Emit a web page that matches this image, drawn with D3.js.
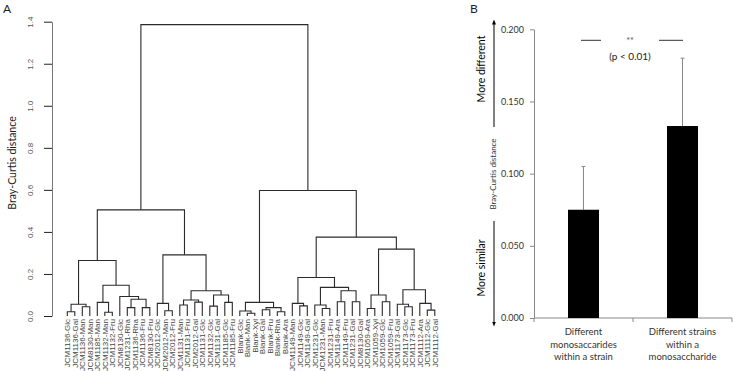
<!DOCTYPE html>
<html>
<head>
<meta charset="utf-8">
<script src="https://cdn.jsdelivr.net/npm/d3@7"></script>
<style>
  body { margin: 0; background: #fff; }
  svg { display: block; }
</style>
</head>
<body>
<div id="chart"></div>
<script>
// ---- Panel A: dendrogram (leaf order as plotted)
const leafLabels = [
  "JCM1136-Glc", "JCM1136-Gal", "JCM1136-Man", "JCM8130-Man", "JCM1185-Man", "JCM1132-Man",
  "JCM1132-Fru", "JCM8130-Glc", "JCM1231-Rha", "JCM1136-Rha", "JCM1136-Fru", "JCM8130-Fru",
  "JCM2012-Glc", "JCM2012-Man", "JCM2012-Fru", "JCM1131-Man", "JCM1131-Fru", "JCM2012-Gal",
  "JCM1131-Glc", "JCM1132-Glc", "JCM1131-Gal", "JCM1185-Glc", "JCM1185-Fru",
  "Blank-Glc", "Blank-Man", "Blank-Xyl", "Blank-Gal", "Blank-Fru", "Blank-Rha", "Blank-Ara",
  "JCM1149-Man", "JCM1149-Glc", "JCM1149-Gal", "JCM1231-Glc", "JCM1231-Man", "JCM1231-Fru",
  "JCM1149-Ara", "JCM1149-Fru", "JCM1231-Gal", "JCM8130-Gal", "JCM1059-Ara", "JCM1059-Xyl",
  "JCM1059-Glc", "JCM1059-Fru", "JCM1173-Gal", "JCM1173-Glc", "JCM1173-Fru", "JCM1112-Ara",
  "JCM1112-Glc", "JCM1112-Gal"
];

// hclust-style merges: negative = leaf (1-based), positive = earlier merge (1-based)
const mergeLeft   = [-1, -3, 1, -6, -5, -9, -11, 6, -8, 5, 3, -14, -13, -16, -18, 14, -20, -22, 17, 16, 13, 11,
                     -25, -24, -27, -29, 25, 24, -32, -31, -35, -34, -37, -39, 33, 32, 30, -41, -43, 38, -46, -45,
                     -49, -48, 42, 40, 37, 28, 22];
const mergeRight  = [-2, -4, 2, -7, 4, -10, -12, 7, 8, 9, 10, -15, 12, -17, -19, 15, -21, -23, 18, 19, 20, 21,
                     -26, 23, -28, -30, 26, 27, -33, 29, -36, 31, -38, -40, 34, 35, 36, -42, -44, 39, -47, 41,
                     -50, 43, 44, 45, 46, 47, 48];
const mergeHeight = [0.020, 0.044, 0.056, 0.018, 0.065, 0.040, 0.040, 0.080, 0.093, 0.146, 0.264,
                     0.025, 0.060, 0.052, 0.066, 0.076, 0.047, 0.065, 0.100, 0.120, 0.291, 0.505,
                     0.013, 0.024, 0.030, 0.020, 0.040, 0.065,
                     0.048, 0.060, 0.036, 0.052, 0.068, 0.068, 0.120, 0.136, 0.183,
                     0.036, 0.068, 0.100, 0.044, 0.056, 0.028, 0.060, 0.125, 0.318, 0.375, 0.597, 1.386];
const distTicks = [0, 0.2, 0.4, 0.6, 0.8, 1.0, 1.2, 1.4];

// ---- Panel B: mean Bray-Curtis distance
const groupLines = [["Different", "monosaccarides", "within a strain"],
                    ["Different strains", "within a", "monosaccharide"]];
const meanDist = [0.075, 0.133];
const sdDist = [0.030, 0.047];
const barTicks = [0, 0.05, 0.10, 0.15, 0.20];

const width = 733, height = 371;
const svg = d3.select("#chart").append("svg")
  .attr("width", width)
  .attr("height", height)
  .style("font-family", "Lato, 'Open Sans', sans-serif");

// ===== Panel A
const nodes = [];
const pick = k => k < 0 ? { name: leafLabels[-k - 1], height: 0 } : nodes[k - 1];
mergeLeft.forEach((l, i) => nodes.push({ height: mergeHeight[i], children: [pick(l), pick(mergeRight[i])] }));
const root = d3.hierarchy(nodes[nodes.length - 1]);

const xLeaf = d3.scalePoint().domain(leafLabels).range([67.3, 434.8]);
const yA = d3.scaleLinear().domain([0, 1.4]).range([316, 21.7]);

root.eachAfter(n => { n.x = n.children ? d3.mean(n.children, c => c.x) : xLeaf(n.data.name); });

svg.append("text").attr("x", 3).attr("y", 13).attr("font-size", 12).attr("fill", "#222").text("A");

const axA = svg.append("g")
  .attr("transform", "translate(52,0)")
  .call(d3.axisLeft(yA).tickValues(distTicks).tickSize(8).tickSizeOuter(0).tickFormat(d3.format(".1f")));
axA.select(".domain").attr("stroke", "#777");
axA.selectAll(".tick line").attr("stroke", "#222");
axA.selectAll(".tick text")
  .attr("transform", "rotate(-90)")
  .attr("x", 0).attr("y", -19).attr("dy", 0)
  .attr("text-anchor", "middle")
  .attr("font-family", "'Liberation Sans', Arial, sans-serif")
  .attr("font-size", 8)
  .attr("fill", "#555");

svg.append("text")
  .attr("transform", "translate(16,163) rotate(-90)")
  .attr("text-anchor", "middle")
  .attr("font-size", 10.5)
  .attr("fill", "#222")
  .text("Bray-Curtis distance");

svg.append("g")
  .selectAll("path")
  .data(root.descendants().filter(d => d.children))
  .join("path")
  .attr("d", d => {
    const [a, b] = d.children;
    return `M${a.x},${yA(a.data.height)}V${yA(d.data.height)}H${b.x}V${yA(b.data.height)}`;
  })
  .attr("fill", "none")
  .attr("stroke", "#2a2a2a")
  .attr("stroke-width", 1.1);

svg.append("g")
  .selectAll("text")
  .data(root.leaves())
  .join("text")
  .attr("transform", d => `translate(${d.x},319) rotate(-90)`)
  .attr("text-anchor", "end")
  .attr("dy", "0.35em")
  .attr("font-family", "'Liberation Sans', Arial, sans-serif")
  .attr("font-size", 8)
  .attr("fill", "#444")
  .text(d => d.data.name);

// ===== Panel B
const xB = d3.scaleBand().domain(d3.range(groupLines.length)).range([534, 732]);
const yB = d3.scaleLinear().domain([0, 0.2]).range([318, 29.3]);
const barW = 31;

svg.append("text").attr("x", 470).attr("y", 13).attr("font-size", 12).attr("fill", "#222").text("B");

const axB = svg.append("g")
  .attr("transform", "translate(534,0)")
  .call(d3.axisLeft(yB).tickValues(barTicks).tickSize(4).tickSizeOuter(0).tickPadding(6).tickFormat(d3.format(".3f")));
axB.select(".domain").attr("stroke", "#888");
axB.selectAll(".tick line").attr("stroke", "#888");
axB.selectAll(".tick text").attr("font-size", 9).attr("fill", "#333").attr("font-family", "Lato, sans-serif");

// category axis with boundary ticks
svg.append("line")
  .attr("x1", 534).attr("x2", 732).attr("y1", yB(0)).attr("y2", yB(0))
  .attr("stroke", "#888");
svg.append("g")
  .selectAll("line")
  .data(d3.range(groupLines.length + 1))
  .join("line")
  .attr("x1", i => 534 + i * xB.step()).attr("x2", i => 534 + i * xB.step())
  .attr("y1", yB(0)).attr("y2", yB(0) + 4)
  .attr("stroke", "#888");

// error bars
svg.append("g")
  .selectAll("g")
  .data(meanDist)
  .join("g")
  .each(function(d, i) {
    const cx = xB(i) + xB.bandwidth() / 2;
    const g = d3.select(this);
    g.append("line").attr("x1", cx).attr("x2", cx).attr("y1", yB(d)).attr("y2", yB(d + sdDist[i])).attr("stroke", "#888");
    g.append("line").attr("x1", cx - 2).attr("x2", cx + 2).attr("y1", yB(d + sdDist[i])).attr("y2", yB(d + sdDist[i])).attr("stroke", "#888");
  });

svg.append("g")
  .selectAll("rect")
  .data(meanDist)
  .join("rect")
  .attr("x", (d, i) => xB(i) + xB.bandwidth() / 2 - barW / 2)
  .attr("y", d => yB(d))
  .attr("width", barW)
  .attr("height", d => yB(0) - yB(d))
  .attr("fill", "#000");

// category labels
svg.append("g")
  .selectAll("text")
  .data(groupLines)
  .join("text")
  .attr("text-anchor", "middle")
  .attr("font-size", 9.5)
  .attr("fill", "#333")
  .each(function(lines, i) {
    d3.select(this).selectAll("tspan")
      .data(lines)
      .join("tspan")
      .attr("x", xB(i) + xB.bandwidth() / 2)
      .attr("y", (l, j) => 335 + j * 12.5)
      .text(l => l);
  });

// significance bracket
const sigY = 40.3;
svg.append("line").attr("x1", 581).attr("x2", 601).attr("y1", sigY).attr("y2", sigY).attr("stroke", "#333");
svg.append("line").attr("x1", 659).attr("x2", 683).attr("y1", sigY).attr("y2", sigY).attr("stroke", "#333");
svg.append("text").attr("x", 630).attr("y", sigY + 4).attr("text-anchor", "middle")
  .attr("font-size", 9).attr("fill", "#555").text("**");
svg.append("text").attr("x", 630).attr("y", 60).attr("text-anchor", "middle")
  .attr("font-size", 10).attr("fill", "#222").text("(p < 0.01)");

// direction arrows
const defs = svg.append("defs");
defs.append("marker")
  .attr("id", "arrow")
  .attr("viewBox", "0 0 10 10")
  .attr("refX", 5).attr("refY", 5)
  .attr("markerWidth", 5).attr("markerHeight", 5)
  .attr("orient", "auto-start-reverse")
  .append("path").attr("d", "M0,1L10,5L0,9Z").attr("fill", "#000");

svg.append("line").attr("x1", 494).attr("x2", 494).attr("y1", 127).attr("y2", 22)
  .attr("stroke", "#000").attr("marker-end", "url(#arrow)");
svg.append("line").attr("x1", 494).attr("x2", 494).attr("y1", 221).attr("y2", 324)
  .attr("stroke", "#000").attr("marker-end", "url(#arrow)");

svg.append("text")
  .attr("transform", "translate(485,69) rotate(-90)")
  .attr("text-anchor", "middle").attr("font-size", 10.5).attr("fill", "#000")
  .text("More different");
svg.append("text")
  .attr("transform", "translate(484.5,268) rotate(-90)")
  .attr("text-anchor", "middle").attr("font-size", 10.5).attr("fill", "#000")
  .text("More similar");
svg.append("text")
  .attr("transform", "translate(495.5,174) rotate(-90)")
  .attr("text-anchor", "middle").attr("font-size", 8).attr("fill", "#333")
  .text("Bray-Curtis distance");
</script>
</body>
</html>
